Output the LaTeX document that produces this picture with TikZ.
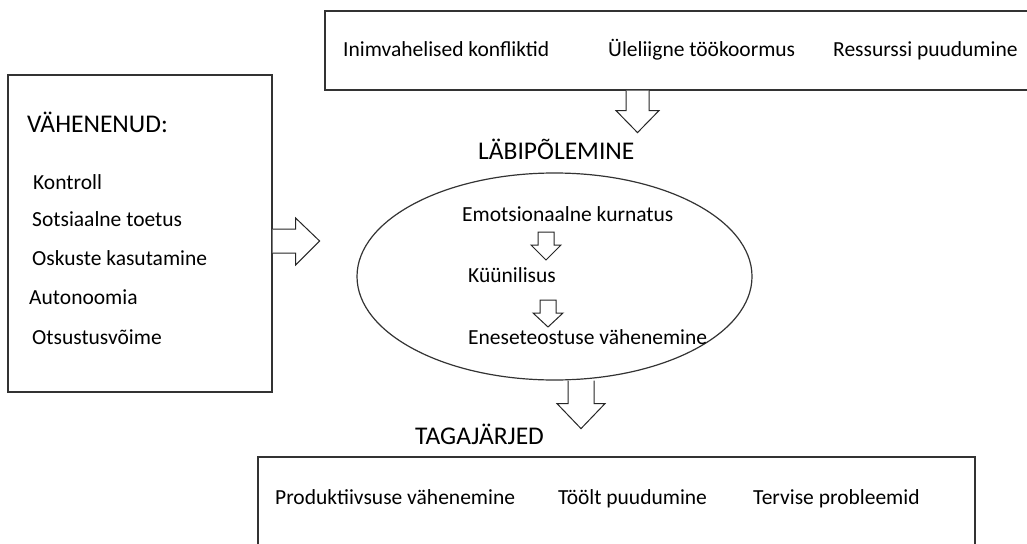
\documentclass[tikz,border=0pt]{standalone}
\usepackage{fontspec}
\setmainfont{Carlito}
\usetikzlibrary{calc,shapes.geometric}

\begin{document}
\begin{tikzpicture}[x=1pt,y=-1pt,line join=miter,
    frame/.style={draw=black!80,line width=1.2pt},
    label/.style={anchor=west,inner sep=0pt,text height=0.95em,text depth=0.05em,font=\fontsize{21.5}{26}\selectfont},
    heading/.style={label,font=\fontsize{25.5}{30}\selectfont},
    blockarrow/.style={draw=black!85,line width=1pt,fill=white}]
  \useasboundingbox (0,0) rectangle (1027,543);
  \clip (0,0) rectangle (1027,543);
  % boxes
  \node[frame,minimum width=715pt,minimum height=79pt] (stressors) at (682.5,50.5) {};
  \node[frame,minimum width=264pt,minimum height=317pt] (reduced) at (140,233.5) {};
  \node[frame,ellipse,minimum width=395pt,minimum height=207pt] (burnout) at (554.5,276.5) {};
  \node[frame,minimum width=717pt,minimum height=103pt] (results) at (616.5,508.5) {};
  % texts
  \node[label] (conflicts) at (343,52) {Inimvahelised konfliktid};
  \node[label] (workload) at (608,52) {Üleliigne töökoormus};
  \node[label] (resources) at (833,52) {Ressurssi puudumine};
  \node[heading] (reducedtitle) at (27,128) {VÄHENENUD:};
  \node[label] (control) at (33,185) {Kontroll};
  \node[label] (support) at (32,222) {Sotsiaalne toetus};
  \node[label] (skills) at (32,261) {Oskuste kasutamine};
  \node[label] (autonomy) at (29,300) {Autonoomia};
  \node[label] (decision) at (32,340) {Otsustusvõime};
  \node[heading] (burntitle) at (478,155) {LÄBIPÕLEMINE};
  \node[label] (exhaustion) at (462,217) {Emotsionaalne kurnatus};
  \node[label] (cynicism) at (468,278) {Küünilisus};
  \node[label] (efficacy) at (468,340) {Eneseteostuse vähenemine};
  \node[heading] (resulttitle) at (415,440) {TAGAJÄRJED};
  \node[label] (productivity) at (275,500) {Produktiivsuse vähenemine};
  \node[label] (absence) at (558,500) {Töölt puudumine};
  \node[label] (health) at (753,500) {Tervise probleemid};
  % block arrows
  \draw[blockarrow] ([xshift=-56.5pt]stressors.south) -- ++(0,20) -- ++(-10,0) -- ++(21.5,22) -- ++(21.5,-22) -- ++(-10,0) -- ++(0,-20);
  \draw[blockarrow] ([yshift=4.5pt]reduced.east) -- ++(23,0) -- ++(0,-11) -- ++(24,23) -- ++(-24,24) -- ++(0,-12) -- ++(-23,0);
  \draw[blockarrow] ([xshift=13.5pt]burnout.south) -- ++(0,23) -- ++(-11,0) -- ++(24,25) -- ++(24,-25) -- ++(-11,0) -- ++(0,-23);
  \coordinate (step1) at (538,232);
  \coordinate (step2) at (540,300);
  \draw[blockarrow] (step1) -- ++(0,13) -- ++(-7,0) -- ++(15,15) -- ++(15,-15) -- ++(-7,0) -- ++(0,-13) -- cycle;
  \draw[blockarrow] (step2) -- ++(0,13) -- ++(-7,0) -- ++(15,14) -- ++(15,-14) -- ++(-7,0) -- ++(0,-13) -- cycle;
\end{tikzpicture}
\end{document}
